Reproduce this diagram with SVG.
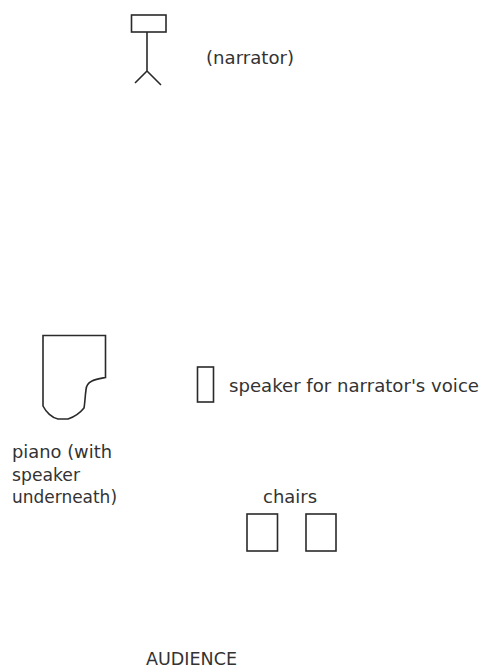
<svg xmlns="http://www.w3.org/2000/svg" width="482" height="668" viewBox="0 0 482 668">
<style>
.s{fill:none;stroke:#2a2a2a;stroke-width:1.6}
text{font-family:"DejaVu Sans",sans-serif;font-size:17px;fill:#333}
</style>
<rect width="482" height="668" fill="#fff"/>
<g id="narrator">
<rect class="s" x="131.5" y="15" width="34.5" height="17"/>
<path class="s" d="M147 32V71M147 71L135 83M147 71L161 85"/>
<text x="206" y="64" textLength="88" lengthAdjust="spacingAndGlyphs">(narrator)</text>
</g>
<g id="piano">
<path class="s" d="M43 335.5H105.5V377.5C100 378.5 96 379 92 381C88 383 86 386 86 390C85 396 85 403 84 408C80 413 74 417 68 419H58C52 418 46 412 43 406Z"/>
<text x="12" y="458" textLength="100" lengthAdjust="spacingAndGlyphs">piano (with</text>
<text x="12" y="481" textLength="68" lengthAdjust="spacingAndGlyphs">speaker</text>
<text x="12" y="503" textLength="105" lengthAdjust="spacingAndGlyphs">underneath)</text>
</g>
<g id="speaker">
<rect class="s" x="197.5" y="367" width="16" height="35"/>
<text x="229" y="392" textLength="250" lengthAdjust="spacingAndGlyphs">speaker for narrator's voice</text>
</g>
<g id="chairs">
<text x="263" y="503" textLength="54" lengthAdjust="spacingAndGlyphs">chairs</text>
<rect class="s" x="247" y="514" width="30.5" height="37"/>
<rect class="s" x="306" y="514" width="30" height="37"/>
</g>
<g id="audience">
<text x="146" y="665" textLength="91" lengthAdjust="spacingAndGlyphs">AUDIENCE</text>
</g>
<g id="connectors"/>
</svg>
